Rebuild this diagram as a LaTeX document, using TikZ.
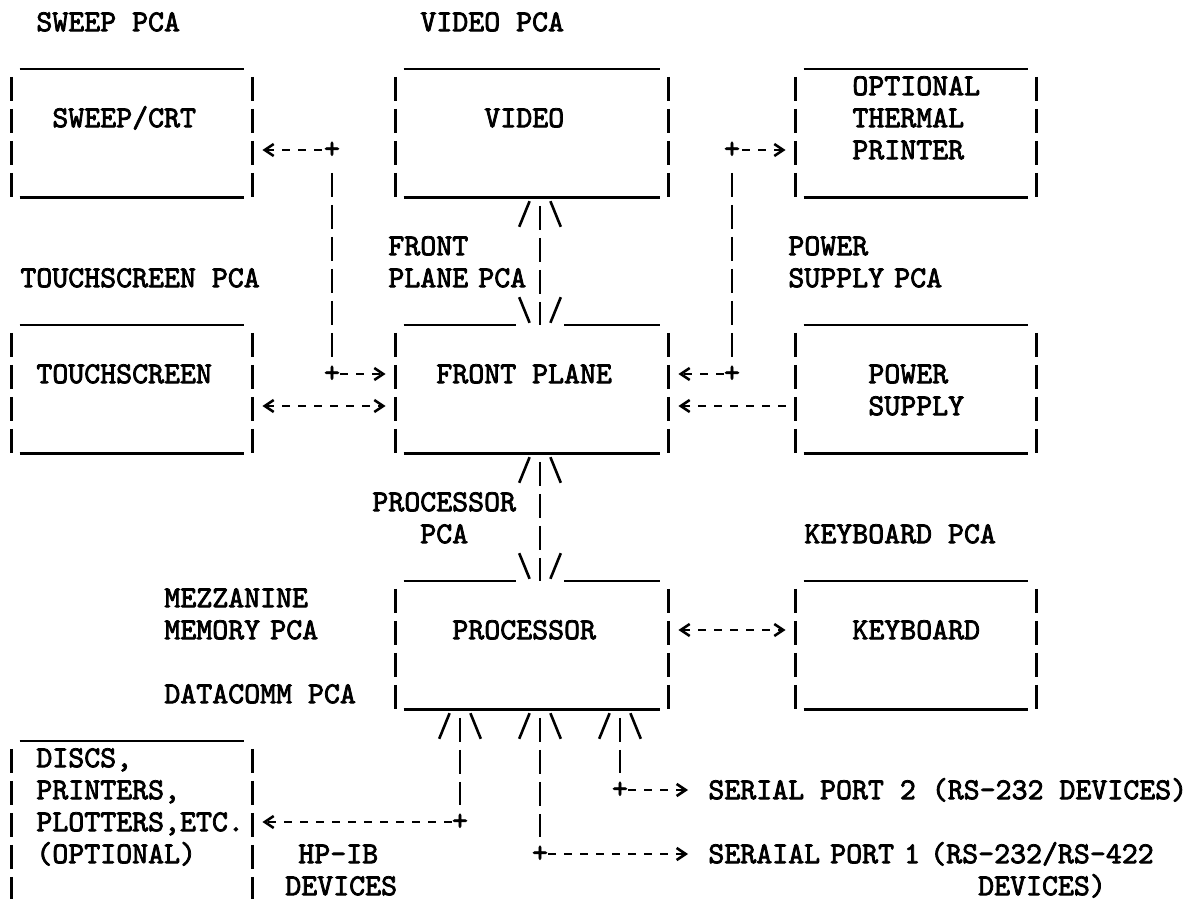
\documentclass[tikz,border=0pt]{standalone}
\usepackage{fontspec}
\newfontfamily\tw{lmmono10-regular.otf}[FakeBold=2.5]
\usetikzlibrary{arrows.meta, fit, calc}
\tikzset{
  typed/.style={font=\tw\fontsize{15.2pt}{16pt}\selectfont, inner sep=0pt},
  txt/.style={typed, anchor=base west, xshift=-4pt, yshift=-4.6pt},
  txtm/.style={txt, text width=400pt, align=left},
  joint/.style={typed},
  tbox/.style={inner sep=0pt},
  rule/.style={line width=1.3pt},
  bars/.style={line width=1.4pt, dash pattern=on 12pt off 4pt},
  vlink/.style={bars, dash phase=12pt},
  link/.style={line width=1.3pt, dash pattern=on 4pt off 4pt},
  >={Straight Barb[length=4.5pt, width=6pt, sep=5pt]},
  splay/.pic={\draw[rule] (-1.3,0.4) -- (-0.65,-0.4); \draw[rule] (0.65,-0.4) -- (1.3,0.4);},
}
\begin{document}
\begin{tikzpicture}[x=8pt, y=-16pt]
  \useasboundingbox[fill=white] (-0.75,-0.6875) rectangle (73.6875,27.40625);

  %% Boxes (columns of the bars, rows of the underscores)
  \node[tbox, fit={(0,1.48) (15,5.48)}] (sweep) {};
  \node[tbox, fit={(24,1.48) (41,5.48)}] (video) {};
  \node[tbox, fit={(49,1.48) (64,5.48)}] (printer) {};
  \node[tbox, fit={(0,9.48) (15,13.48)}] (touch) {};
  \node[tbox, fit={(24,9.48) (41,13.48)}] (front) {};
  \node[tbox, fit={(49,9.48) (64,13.48)}] (power) {};
  \node[tbox, fit={(24,17.48) (41,21.48)}] (proc) {};
  \node[tbox, fit={(49,17.48) (64,21.48)}] (keyb) {};
  \node[tbox, fit={(0,22.48) (15,27.48)}] (discs) {};

  \foreach \b in {sweep,video,printer,touch,front,power,proc,keyb} {
    \draw[bars] ([yshift=-4pt]\b.north west) -- (\b.south west);
    \draw[bars] ([yshift=-4pt]\b.north east) -- (\b.south east);
    \draw[rule] ([xshift=4pt]\b.south west) -- ([xshift=-4pt]\b.south east);
  }
  \foreach \b in {sweep,video,printer,touch,power,keyb,discs}
    \draw[rule] ([xshift=4pt]\b.north west) -- ([xshift=-4pt]\b.north east);
  \foreach \b in {front,proc} {
    \draw[rule] ([xshift=4pt]\b.north west) -- ($(\b.north west)+(7.5,0)$);
    \draw[rule] ($(\b.north east)+(-6.5,0)$) -- ([xshift=-4pt]\b.north east);
  }
  \draw[bars] ([yshift=-4pt]discs.north west) -- (discs.south west);
  \draw[bars] ([yshift=-4pt]discs.north east) -- (discs.south east);

  %% Texts
  \node[txt] (sweeppca) at (2,0) {SWEEP PCA};
  \node[txt] (videopca) at (26,0) {VIDEO PCA};
  \node[txt] (sweeplbl) at (3,3) {SWEEP/CRT};
  \node[txt] (videolbl) at (30,3) {VIDEO};
  \node[txtm] (printerlbl) at (53,2) {OPTIONAL\\THERMAL\\PRINTER};
  \node[txtm] (frontpca) at (24,7) {FRONT\\PLANE PCA};
  \node[txtm] (powerpca) at (49,7) {POWER\\SUPPLY PCA};
  \node[txt] (touchpca) at (1,8) {TOUCHSCREEN PCA};
  \node[txt] (touchlbl) at (2,11) {TOUCHSCREEN};
  \node[txt] (frontlbl) at (27,11) {FRONT PLANE};
  \node[txtm] (powerlbl) at (54,11) {POWER\\SUPPLY};
  \node[txtm] (procpca) at (23,15) {PROCESSOR\\\phantom{PRO}PCA};
  \node[txt] (keybpca) at (50,16) {KEYBOARD PCA};
  \node[txtm] (mezzpca) at (10,18) {MEZZANINE\\MEMORY PCA};
  \node[txt] (dcpca) at (10,21) {DATACOMM PCA};
  \node[txt] (proclbl) at (28,19) {PROCESSOR};
  \node[txt] (keyblbl) at (53,19) {KEYBOARD};
  \node[txtm] (discslbl) at (2,23) {DISCS,\\PRINTERS,\\PLOTTERS,ETC.\\(OPTIONAL)};
  \node[txt] (hpib) at (18.375,26) {HP-IB};
  \node[txt] (hpibdev) at (17.56,27) {DEVICES};
  \node[txt] (ser2) at (44,24) {SERIAL PORT 2 (RS-232 DEVICES)};
  \node[txtm] (ser1) at (44,26) {SERAIAL PORT 1 (RS-232/RS-422\\\phantom{SERAIAL PORT 1 (RS}DEVICES)};

  %% Joints
  \node[joint] (jsweep) at (20,4) {+};
  \node[joint] (jfrontl) at (20,11) {+};
  \node[joint] (jprint) at (45,4) {+};
  \node[joint] (jfrontr) at (45,11) {+};
  \node[joint] (jhpib) at (28,25) {+};
  \node[joint] (jser1) at (33,26) {+};
  \node[joint] (jser2) at (38,24) {+};

  %% Links
  \draw[link, <-] (sweep.east |- jsweep) -- (jsweep);
  \draw[vlink, shorten <=7.5pt, shorten >=8.5pt] (jsweep.center) -- (jfrontl.center);
  \draw[link, ->] (jfrontl) -- (front.west |- jfrontl);
  \draw[link, <->] (touch.east |- 0,12) -- (front.west |- 0,12);

  \draw[link, <-] (printer.west |- jprint) -- (jprint);
  \draw[vlink, shorten <=7.5pt, shorten >=8.5pt] (jprint.center) -- (jfrontr.center);
  \draw[link, ->] (jfrontr) -- (front.east |- jfrontr);
  \draw[link, <-] (front.east |- 0,12) -- (power.west |- 0,12);

  \draw[link, <->] (proc.east |- 0,19) -- (keyb.west |- 0,19);

  %% Buses
  \draw[vlink] (video.south -| 33,0) -- (front.north -| 33,0);
  \pic at (33,6) {splay};
  \pic[yscale=-1] at (33,9) {splay};
  \draw[vlink] (front.south -| 33,0) -- (proc.north -| 33,0);
  \pic at (33,14) {splay};
  \pic[yscale=-1] at (33,17) {splay};
  \foreach \c in {28,33,38}
    \pic at (\c,22) {splay};

  \draw[vlink, shorten >=8.5pt] (proc.south -| 28,0) -- (jhpib.center);
  \draw[link, ->] (jhpib) -- (discs.east |- jhpib);
  \draw[vlink, shorten >=8.5pt] (proc.south -| 33,0) -- (jser1.center);
  \draw[link, ->, shorten >=5pt] (jser1) -- (ser1.west |- jser1);
  \draw[vlink, shorten >=8.5pt] (proc.south -| 38,0) -- (jser2.center);
  \draw[link, ->, shorten >=5pt] (jser2) -- (ser2.west |- jser2);

\end{tikzpicture}
\end{document}
